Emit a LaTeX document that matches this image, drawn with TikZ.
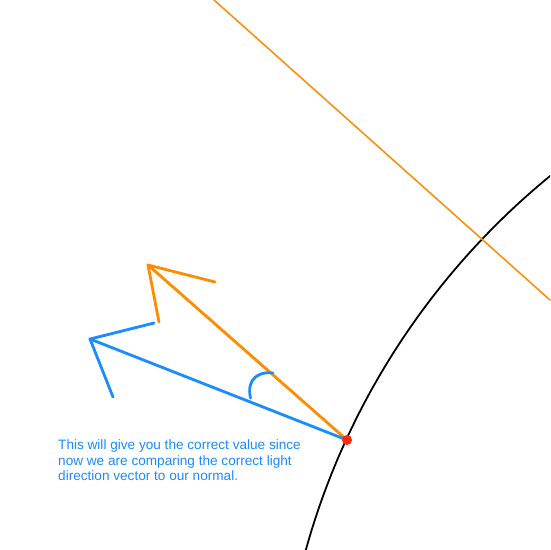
\documentclass[tikz,border=0pt]{standalone}
\usepackage{fontspec}
\setmainfont{Liberation Sans}
\definecolor{lightor}{RGB}{255,140,0}
\definecolor{normblue}{RGB}{26,140,255}
\definecolor{hitred}{RGB}{255,40,10}

\begin{document}
\begin{tikzpicture}
  [x=1pt,y=-1pt,line cap=round,line join=round,
   light/.style={draw=lightor,line width=2.8pt},
   normal/.style={draw=normblue,line width=2.8pt},
   every node/.style={inner sep=0pt}]
  \useasboundingbox[fill=white] (0,0) rectangle (550,550);

  \coordinate (c) at (1018,748);
  \coordinate (ray1) at (214,0);
  \coordinate (ray2) at (550,300);
  \coordinate (ltip) at (148,265);
  \coordinate (lh1) at (215,282);
  \coordinate (lh2) at (159,322);
  \coordinate (ntip) at (90,339);
  \coordinate (nh1) at (154,323);
  \coordinate (nh2) at (113,397);
  \coordinate (a1) at (250.5,398);
  \coordinate (a2) at (273,373);
  \coordinate (hit) at (347,440);

  \begin{scope}
    \clip (0,0) rectangle (550,550);
    \draw[black,line width=1.8pt] (c) circle (739);
  \end{scope}
  \draw[lightor,line width=1.5pt] (ray1) -- (ray2);

  \draw[light] (hit) -- (ltip);
  \draw[light] (lh1) -- (ltip) -- (lh2);
  \draw[normal] (hit) -- (ntip);
  \draw[normal] (nh1) -- (ntip) -- (nh2);
  \draw[normal] (a1) .. controls (246,378) and (260,371) .. (a2);

  \node[circle,fill=hitred,minimum size=10pt] (dot) at (hit) {};

  \node[anchor=north west,align=left,text=normblue,
    font=\fontsize{13.6}{15.6}\selectfont] (note) at (58,439.5)
    {This will give you the correct value since\\
     now we are comparing the correct light\\
     direction vector to our normal.};

\end{tikzpicture}
\end{document}
